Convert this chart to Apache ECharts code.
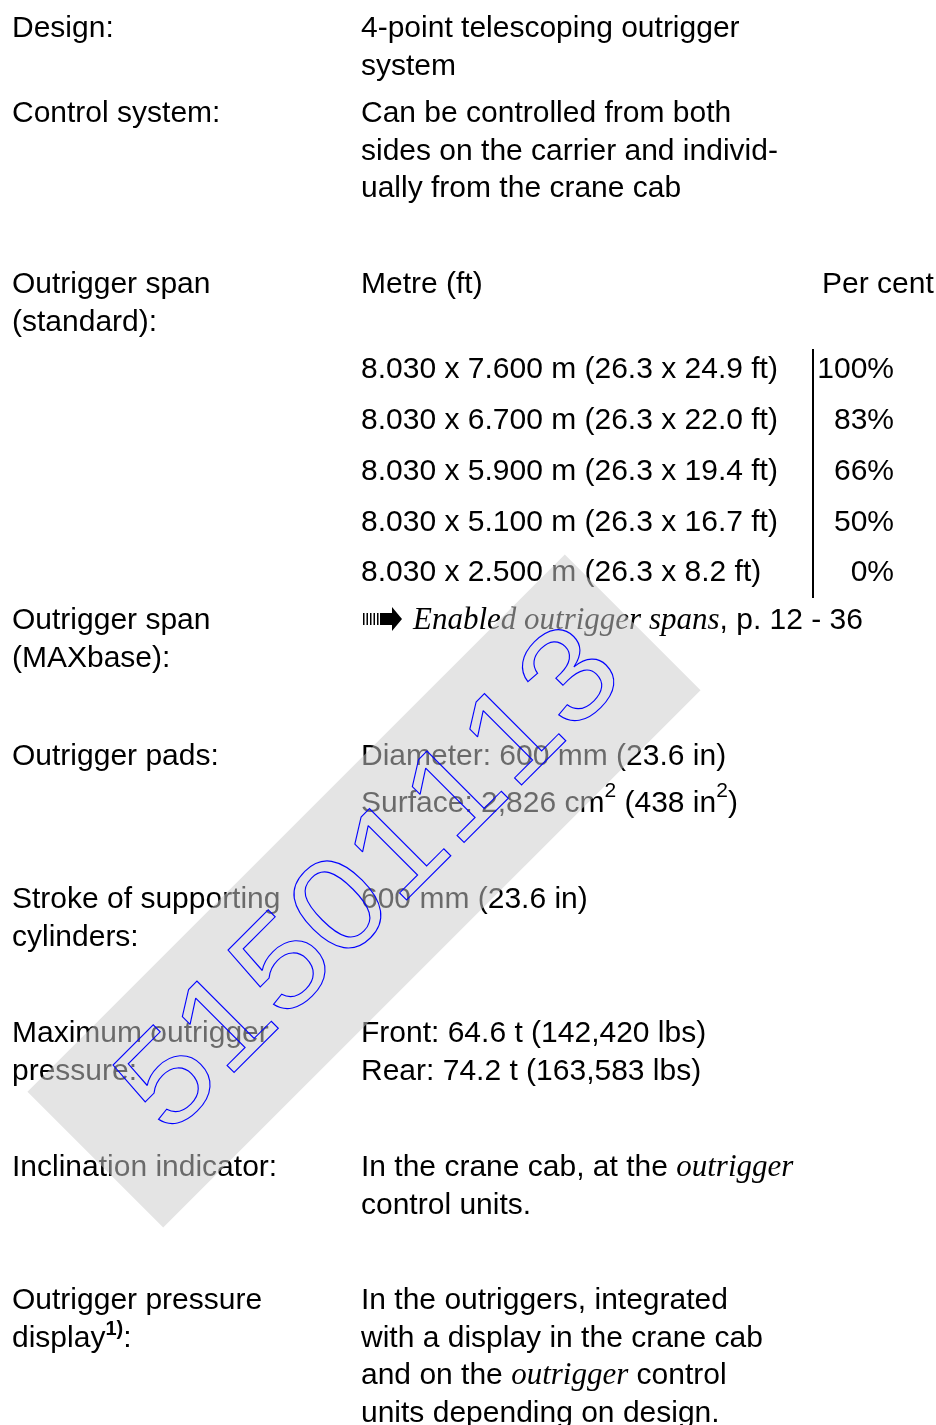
<!DOCTYPE html>
<html>
<head>
<meta charset="utf-8">
<title>Outrigger data</title>
<script src="https://cdn.jsdelivr.net/npm/echarts@6.0.0/dist/echarts.min.js"></script>
<style>
html, body { margin: 0; padding: 0; background: #fff; }
#main { width: 936px; height: 1425px; }
</style>
</head>
<body>
<div id="main"></div>
<script>
/**************** data ****************/
var sectionLabels = [
    'Design:',
    'Control system:',
    'Outrigger span\n(standard):',
    'Outrigger span\n(MAXbase):',
    'Outrigger pads:',
    'Stroke of supporting\ncylinders:',
    'Maximum outrigger\npressure:',
    'Inclination indicator:',
    'Outrigger pressure\ndisplay{sup1|1)}:'
];
var sectionValues = [
    '4-point telescoping outrigger\nsystem',
    'Can be controlled from both\nsides on the carrier and individ-\nually from the crane cab',
    'Metre (ft)',
    '{it|Enabled outrigger spans}, p. 12 - 36',
    'Diameter: 600 mm (23.6 in)\nSurface: 2,826 cm{sup|2} (438 in{sup|2})',
    '600 mm (23.6 in)',
    'Front: 64.6 t (142,420 lbs)\nRear: 74.2 t (163,583 lbs)',
    'In the crane cab, at the {it|outrigger}\ncontrol units.',
    'In the outriggers, integrated\nwith a display in the crane cab\nand on the {it|outrigger} control\nunits depending on design.'
];
var percentHeader = 'Per cent';
var spanSizes = [
    '8.030 x 7.600 m (26.3 x 24.9 ft)',
    '8.030 x 6.700 m (26.3 x 22.0 ft)',
    '8.030 x 5.900 m (26.3 x 19.4 ft)',
    '8.030 x 5.100 m (26.3 x 16.7 ft)',
    '8.030 x 2.500 m (26.3 x 8.2 ft)'
];
var spanPercent = ['100%', '83%', '66%', '50%', '0%'];
var watermarkText = '51501113';

/**************** layout ****************/
var SANS = '"Liberation Sans", Arial, sans-serif';
var SERIF = '"Liberation Serif", "Times New Roman", serif';
var FS = 30;
var LH = 37.5;
var LEFT_X = 12;
var VALUE_X = 361;
var sectionMid = [29, 114, 285, 621, 757, 900, 1034, 1168, 1301];
var valueLineHeight = [LH, LH, LH, LH, 47, LH, LH, LH, LH];
var arrowSection = 3;
var spanTop = 370, spanStep = 50.75;

var rich = {
    it: { fontFamily: SERIF, fontStyle: 'italic', fontSize: 31, fill: '#000' },
    sup: { fontFamily: SANS, fontSize: 21, lineHeight: 30, verticalAlign: 'top', fill: '#000' },
    sup1: { fontFamily: SANS, fontSize: 20, fontWeight: 'bold', lineHeight: 27, verticalAlign: 'top', fill: '#000' }
};

function textEl(x, y, text, lh, align) {
    return {
        type: 'text', z: 1, silent: true,
        style: {
            x: x, y: y - lh / 2, text: text,
            fontFamily: SANS, fontSize: FS, fill: '#000',
            lineHeight: lh,
            align: align || 'left', textAlign: align || 'left',
            verticalAlign: 'top', textVerticalAlign: 'top',
            rich: rich
        }
    };
}

var elements = [];

sectionLabels.forEach(function (t, i) {
    elements.push(textEl(LEFT_X, sectionMid[i], t, LH));
});
sectionValues.forEach(function (t, i) {
    var x = i === arrowSection ? 413 : VALUE_X;
    elements.push(textEl(x, sectionMid[i], t, valueLineHeight[i]));
});
elements.push(textEl(822, sectionMid[2], percentHeader, LH));

// span table
spanSizes.forEach(function (t, i) {
    var y = spanTop + i * spanStep;
    elements.push(textEl(VALUE_X, y, t, LH));
    elements.push(textEl(894, y, spanPercent[i], LH, 'right'));
});
elements.push({
    type: 'line', z: 1, silent: true,
    shape: { x1: 813, y1: 349, x2: 813, y2: 598 },
    style: { stroke: '#000', lineWidth: 2 }
});

// reference arrow
var ay = sectionMid[arrowSection] - 2;
for (var b = 0; b < 5; b++) {
    elements.push({
        type: 'rect', z: 1, silent: true,
        shape: { x: 363 + b * 3.5, y: ay - 6, width: 1.5, height: 12 },
        style: { fill: '#000' }
    });
}
elements.push({
    type: 'polygon', z: 1, silent: true,
    shape: { points: [[380, ay - 6], [392, ay - 6], [392, ay - 12], [402, ay], [392, ay + 12], [392, ay + 6], [380, ay + 6]] },
    style: { fill: '#000' }
});

/**************** watermark ****************/
var wc = [364, 891], halfLen = 380, halfWid = 96;
var u = [Math.SQRT1_2, -Math.SQRT1_2], v = [Math.SQRT1_2, Math.SQRT1_2];
function pt(s, t) { return [wc[0] + s * u[0] + t * v[0], wc[1] + s * u[1] + t * v[1]]; }
elements.push({
    type: 'polygon', z: 5, silent: true,
    shape: { points: [pt(halfLen, -halfWid), pt(halfLen, halfWid), pt(-halfLen, halfWid), pt(-halfLen, -halfWid)] },
    style: { fill: '#cccccc', opacity: 0.52 }
});
var digitStep = 81.3, digitStart = -272;
watermarkText.split('').forEach(function (ch, k) {
    var p = pt(digitStart + k * digitStep, 0);
    elements.push({
        type: 'text', z: 10, silent: true,
        x: p[0], y: p[1], rotation: Math.PI / 4, scaleX: 1.1,
        style: {
            x: 0, y: 0, text: ch,
            fontFamily: SANS, fontSize: 132,
            fill: 'none', stroke: '#0000ff', lineWidth: 1.1,
            align: 'center', textAlign: 'center',
            verticalAlign: 'middle', textVerticalAlign: 'middle'
        }
    });
});

var myChart = echarts.init(document.getElementById('main'));
myChart.setOption({
    backgroundColor: '#fff',
    animation: false,
    graphic: { elements: elements }
});
</script>
</body>
</html>
